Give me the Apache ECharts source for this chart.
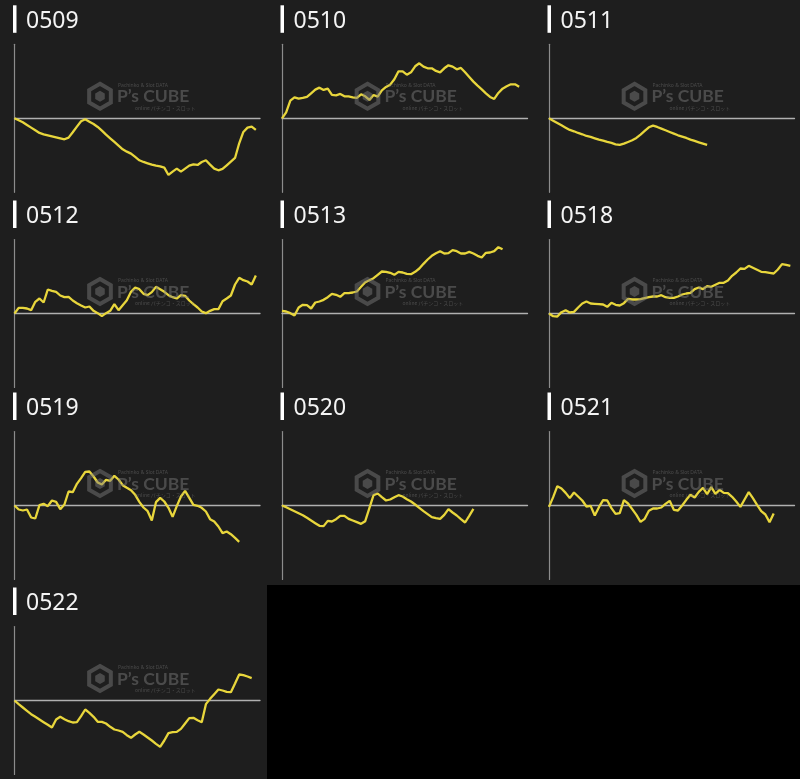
<!DOCTYPE html>
<html><head><meta charset="utf-8">
<script src="https://cdn.jsdelivr.net/npm/echarts@6/dist/echarts.min.js"></script>
<style>html,body{margin:0;padding:0;background:#000;}#c{width:800px;height:779px;}</style>
</head><body><div id="c"></div>
<script>
// x slots (game progress steps) shared by all panels
const categories = Array.from({length: 60}, (_, i) => String(i));
const panelNames = ['0509','0510','0511','0512','0513','0518','0519','0520','0521','0522'];

// coin difference per slot (relative units)
const d0509 = [0,-6,-12,-20,-28,-36,-44,-48,-51,-54,-57,-60,-63,-58,-42,-25,-9,-3,-10,-17,-26,-37,-49,-60,-71,-82,-93,-100,-106,-116,-126,-131,-135,-139,-142,-144,-148,-170,-160,-151,-160,-151,-142,-138,-140,-131,-126,-139,-151,-156,-152,-141,-130,-119,-75,-41,-28,-25,-35];
const d0510 = [0,18,53,63,59,61,64,75,86,92,85,89,70,69,73,66,66,63,61,72,66,55,70,65,84,94,101,117,141,141,131,138,156,165,155,150,150,142,138,150,159,155,147,151,138,124,110,98,87,75,64,58,76,89,96,102,102,95];
const d0511 = [0,-7,-14,-21,-28,-35,-39,-44,-48,-53,-56,-60,-64,-67,-71,-74,-78,-80,-76,-71,-66,-59,-49,-38,-27,-22,-26,-31,-36,-41,-46,-51,-55,-59,-64,-68,-72,-76,-80];
const d0512 = [0,17,17,15,10,35,45,33,72,68,65,54,49,50,39,31,24,18,21,8,1,-8,1,8,28,10,25,40,65,78,73,59,55,64,80,73,65,55,49,45,55,53,39,28,18,6,1,8,13,13,37,45,54,87,107,100,96,87,114];
const d0513 = [8,6,1,-6,18,26,25,15,33,36,41,49,59,56,50,61,61,63,66,80,94,100,106,116,126,125,122,116,125,123,119,118,125,135,149,162,173,181,187,180,181,190,187,180,180,185,180,173,168,182,183,187,199,193];
const d0518 = [0,-8,-9,4,10,3,5,18,30,36,30,29,28,27,20,32,26,24,31,44,42,42,43,46,49,51,51,55,49,47,47,51,57,60,62,73,78,73,82,80,86,92,92,99,113,123,135,134,143,137,131,125,124,122,120,132,148,146,143];
const d0519 = [0,-12,-15,-12,-36,-39,1,5,-2,15,11,-11,3,42,40,65,82,101,102,87,69,63,77,74,89,78,61,53,46,32,11,-6,-17,-45,10,23,12,-7,-34,-2,27,44,23,2,-1,-7,-18,-41,-48,-63,-83,-78,-86,-97,-109];
const d0520 = [0,-5,-11,-17,-23,-29,-37,-45,-53,-61,-62,-46,-48,-41,-31,-31,-40,-45,-50,-55,-47,-8,31,36,25,15,18,25,31,27,19,12,3,-7,-17,-26,-35,-38,-40,-28,-11,-21,-30,-41,-51,-31,-10];
const d0521 = [-4,25,58,51,38,22,39,27,15,-3,-1,-30,-5,16,15,-8,-25,-23,16,6,-11,-28,-49,-40,-16,-9,-9,-6,5,14,-13,-15,0,17,32,24,41,53,34,55,35,47,38,37,26,12,-4,18,40,22,2,-17,-27,-50,-24];
const d0522 = [0,-11,-21,-31,-41,-49,-57,-65,-73,-81,-57,-49,-56,-62,-66,-65,-47,-27,-37,-49,-64,-64,-69,-79,-87,-90,-94,-104,-112,-102,-94,-102,-111,-120,-130,-139,-120,-98,-95,-94,-85,-69,-53,-52,-59,-65,-11,5,19,33,30,26,25,51,78,76,72,67];
const panelSeries = [d0509,d0510,d0511,d0512,d0513,d0518,d0519,d0520,d0521,d0522];

const colX = [0, 267.5, 534.5];
const rowY = [0.8, 196, 388, 583];
const bgCols = [0, 267, 534, 800];
const bgRows = [0, 195, 390, 585, 779];
const WM = 'rgba(125,125,125,0.47)';

const grids = [], xAxes = [], yAxes = [], series = [], graphic = [];

panelNames.forEach((name, k) => {
  const col = k % 3, row = Math.floor(k / 3);
  const zero = rowY[row] + 117.5;
  graphic.push({type:'rect', z:-10, silent:true,
    shape:{x:bgCols[col], y:bgRows[row], width:bgCols[col+1]-bgCols[col], height:bgRows[row+1]-bgRows[row]},
    style:{fill:'#1e1e1e'}});
  graphic.push({type:'rect', z:5, shape:{x:colX[col]+13, y:rowY[row]+4.5, width:3.5, height:27.5}, style:{fill:'#ffffff'}});
  graphic.push({type:'text', z:5, x:colX[col]+26, y:rowY[row]+20.5,
    style:{text:name, font:'23px "Noto Sans"', fill:'#f4f4f4', verticalAlign:'middle'}});
  // watermark
  const gx = colX[col] + 87, gy = zero - 36.5;
  const hex = (cx, cy, r) => [0,1,2,3,4,5].map(j => {
    const a = (-90 + 60*j) * Math.PI / 180; return [cx + r*Math.cos(a), cy + r*Math.sin(a)];
  });
  graphic.push({type:'group', x:gx, y:gy, z:100, silent:true, children:[
    {type:'polygon', z:100, shape:{points:hex(13,14.5,12.5)}, style:{fill:'none', stroke:WM, lineWidth:4}},
    {type:'polygon', z:100, shape:{points:hex(13,14.5,5.5)}, style:{fill:WM}},
    {type:'text', z:100, x:30, y:15, style:{text:"P\u2019s CUBE", font:'bold 17.5px Lato', fill:WM, verticalAlign:'middle'}},
    {type:'text', z:100, x:31, y:4, style:{text:'Pachinko & Slot DATA', font:'5px "Noto Sans"', fill:WM, verticalAlign:'middle'}},
    {type:'text', z:100, x:48, y:26.5, style:{text:'online パチンコ・スロット', font:'5px "Noto Sans CJK JP"', fill:WM, verticalAlign:'middle'}}
  ]});

  grids.push({left:colX[col]+14.5, top:zero-74, width:245.5, height:148});
  xAxes.push({type:'category', gridIndex:k, data:categories, boundaryGap:false,
    axisLine:{onZero:true, lineStyle:{color:'#b0b0b0', width:1.3}},
    axisTick:{show:false}, axisLabel:{show:false}, splitLine:{show:false}});
  yAxes.push({type:'value', gridIndex:k, min:-222, max:222,
    axisLine:{show:true, lineStyle:{color:'#8c8c8c', width:1.2}},
    axisTick:{show:false}, axisLabel:{show:false}, splitLine:{show:false}});
  series.push({type:'line', name:name, xAxisIndex:k, yAxisIndex:k, data:panelSeries[k],
    symbol:'none', showSymbol:false, lineStyle:{color:'#e8d63c', width:2.3}, z:3});
});

const chart = echarts.init(document.getElementById('c'), null, {renderer:'canvas'});
chart.setOption({
  backgroundColor:'#000000',
  animation:false,
  grid:grids, xAxis:xAxes, yAxis:yAxes, series:series, graphic:graphic
});
</script></body></html>
